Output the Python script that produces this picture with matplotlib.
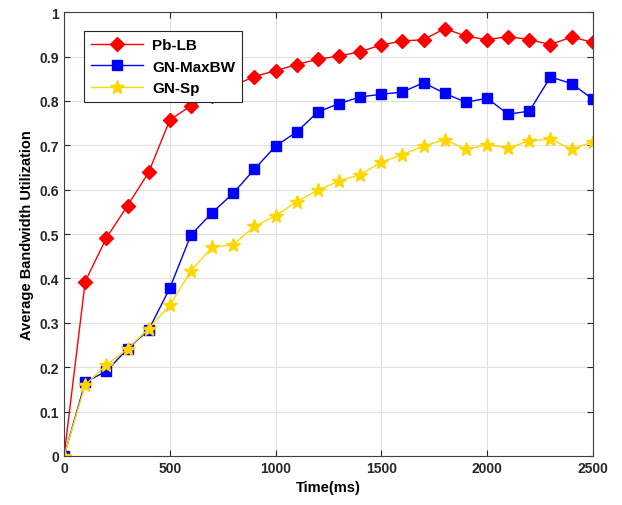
import matplotlib
matplotlib.use('Agg')
import matplotlib.pyplot as plt

plt.rcParams['font.family'] = ['Liberation Sans', 'DejaVu Sans']
plt.rcParams['font.weight'] = 'bold'

time_ms = list(range(0, 2600, 100))
pb_lb = [0.0, 0.393, 0.491, 0.564, 0.639, 0.757, 0.789, 0.812, 0.834, 0.855,
         0.868, 0.882, 0.894, 0.901, 0.911, 0.926, 0.935, 0.938, 0.963, 0.946,
         0.938, 0.945, 0.938, 0.927, 0.944, 0.932]
gn_maxbw = [0.0, 0.166, 0.191, 0.241, 0.284, 0.378, 0.498, 0.548, 0.592, 0.646,
            0.698, 0.730, 0.775, 0.794, 0.809, 0.815, 0.820, 0.841, 0.817, 0.797,
            0.806, 0.770, 0.777, 0.854, 0.839, 0.804]
gn_sp = [0.0, 0.160, 0.205, 0.241, 0.287, 0.339, 0.417, 0.470, 0.476, 0.517,
         0.541, 0.573, 0.599, 0.619, 0.634, 0.662, 0.679, 0.698, 0.713, 0.691,
         0.701, 0.694, 0.710, 0.714, 0.691, 0.708]

fig = plt.figure(figsize=(6.22, 5.06), dpi=100)
ax = fig.add_axes([0.103, 0.097, 0.850, 0.877])

ax.plot(time_ms, pb_lb, color='#ff0000', lw=1, marker='D', ms=7.5, label='Pb-LB')
ax.plot(time_ms, gn_maxbw, color='#0000ff', lw=1, marker='s', ms=6.5, label='GN-MaxBW')
ax.plot(time_ms, gn_sp, color='#ffd700', lw=1, marker='*', ms=10, label='GN-Sp')

ax.set_xlim(0, 2500)
ax.set_ylim(0, 1)
ax.set_xticks(range(0, 2501, 500))
ax.set_yticks([i / 10 for i in range(11)])
ax.set_yticklabels(['0', '0.1', '0.2', '0.3', '0.4', '0.5', '0.6', '0.7', '0.8', '0.9', '1'])
ax.tick_params(direction='in', labelsize=10, length=4, colors='#262626', top=True, right=True)
ax.grid(True, color='#e0e0e0', lw=0.8)
ax.set_axisbelow(True)
for s in ax.spines.values():
    s.set_color('#404040')

ax.set_xlabel('Time(ms)', fontsize=10.5, fontweight='bold')
ax.set_ylabel('Average Bandwidth Utilization', fontsize=10.5, fontweight='bold')

leg = ax.legend(loc='upper left', bbox_to_anchor=(0.038, 0.957), borderaxespad=0,
                fontsize=11, fancybox=False, edgecolor='#262626', framealpha=1,
                handlelength=3.4, handletextpad=0.6, borderpad=0.45, labelspacing=0.5)
leg.get_frame().set_linewidth(0.8)

fig.savefig('out.png', dpi=100)
